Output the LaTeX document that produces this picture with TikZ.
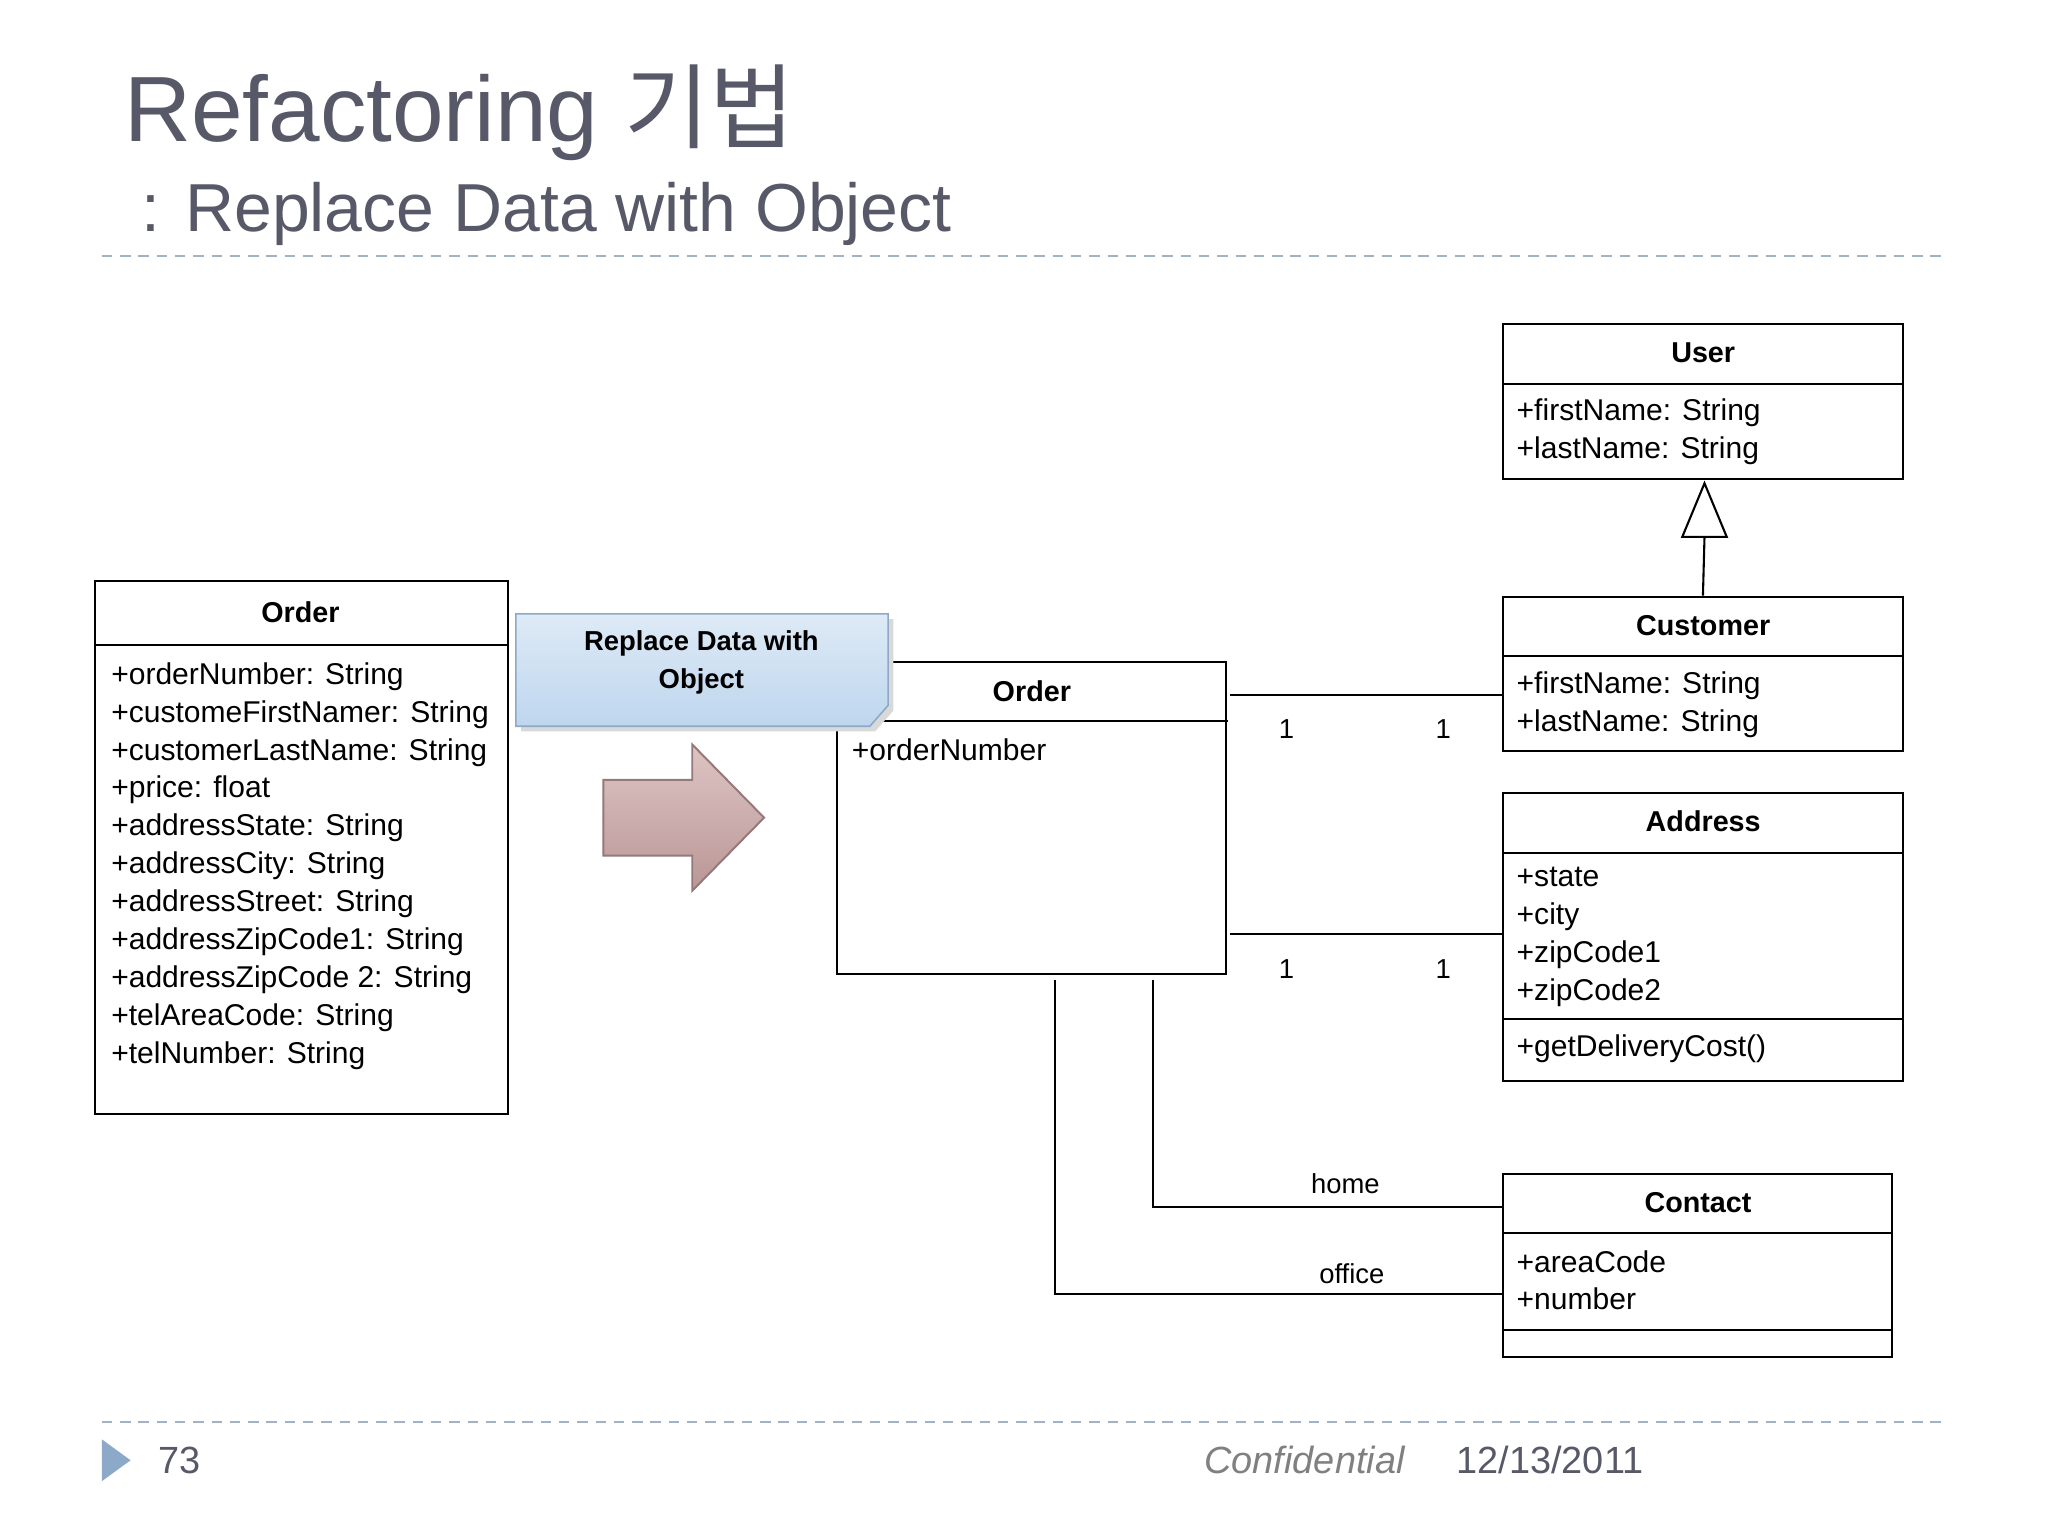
\documentclass[tikz,border=0pt]{standalone}
\usepackage{fontspec}
\setmainfont{Liberation Sans}
\newfontfamily\kor{Noto Sans CJK KR}
\usetikzlibrary{positioning}
\definecolor{titlegray}{RGB}{88,89,104}
\definecolor{rulecol}{RGB}{160,178,196}
\definecolor{markcol}{RGB}{140,170,200}
\definecolor{notetop}{RGB}{222,234,246}
\definecolor{notebot}{RGB}{190,214,238}
\definecolor{arrowtop}{RGB}{222,196,196}
\definecolor{arrowbot}{RGB}{186,150,150}
\tikzset{
  umlbox/.style={draw, line width=1.6pt, anchor=north west, inner sep=0pt},
  umltext/.style={anchor=north west, align=left, inner sep=0pt, font=\fontsize{23}{29}\selectfont},
  umlhead/.style={font=\bfseries\fontsize{22}{29}\selectfont, inner sep=0pt},
  link/.style={line width=1.6pt},
  mult/.style={font=\fontsize{21}{25}\selectfont, inner sep=0pt}
}
\begin{document}
\begin{tikzpicture}[x=1pt,y=-1pt]
  \fill[white] (0,0) rectangle (1568,1176);
  \useasboundingbox (0,0) rectangle (1568,1176);

  % title
  \node[anchor=base west, inner sep=0pt, text=titlegray, font=\fontsize{71}{80}\selectfont] (title) at (95,108) {Refactoring {\kor 기법}};
  \node[anchor=base west, inner sep=0pt, text=titlegray, font=\fontsize{52}{56}\selectfont] (subtitle) at (108,177) {: Replace Data with Object};
  \draw[rulecol, line width=1.5pt, dash pattern=on 8pt off 6pt] (78,196) -- (1490,196);

  % old Order
  \node[umlbox, minimum width=316pt, minimum height=408pt] (oldorder) at (72,444) {};
  \node[umlhead] (oldorderhead) at (230,469) {Order};
  \draw[line width=1.6pt] (72,494) -- (388,494);
  \node[umltext] (oldorderattr) at (85,507) {+orderNumber: String\\+customeFirstNamer: String\\+customerLastName: String\\+price: float\\+addressState: String\\+addressCity: String\\+addressStreet: String\\+addressZipCode1: String\\+addressZipCode 2: String\\+telAreaCode: String\\+telNumber: String};

  % new Order
  \node[umlbox, minimum width=298pt, minimum height=239pt] (order) at (640,506) {};
  \node[umlhead] (orderhead) at (790,529) {Order};
  \draw[line width=1.6pt] (640,552) -- (940,552);
  \node[umltext] (orderattr) at (652,565) {+orderNumber};

  % note and arrow
  \fill[black!15] (399,474) -- (684,474) -- (684,544) -- (670,560) -- (399,560) -- cycle;
  \draw[draw=markcol, top color=notetop, bottom color=notebot, line width=1.2pt]
    (395,470) -- (680,470) -- (680,540) -- (666,556) -- (395,556) -- cycle;
  \node[align=center, font=\bfseries\fontsize{21}{29}\selectfont, inner sep=0pt] (note) at (537,507) {Replace Data with\\Object};
  \draw[draw=arrowbot!80!black, top color=arrowtop, bottom color=arrowbot, line width=1.5pt]
    (462,597) -- (530,597) -- (530,570) -- (585,626) -- (530,682) -- (530,655) -- (462,655) -- cycle;

  % User
  \node[umlbox, minimum width=306pt, minimum height=119pt] (user) at (1150,247) {};
  \node[umlhead] (userhead) at (1304,270) {User};
  \draw[line width=1.6pt] (1150,294) -- (1456,294);
  \node[umltext] (userattr) at (1161,305) {+firstName: String\\+lastName: String};

  % Customer
  \node[umlbox, minimum width=306pt, minimum height=118pt] (customer) at (1150,456) {};
  \node[umlhead] (customerhead) at (1304,479) {Customer};
  \draw[line width=1.6pt] (1150,502) -- (1456,502);
  \node[umltext] (customerattr) at (1161,514) {+firstName: String\\+lastName: String};

  % Address
  \node[umlbox, minimum width=306pt, minimum height=221pt] (address) at (1150,606) {};
  \node[umlhead] (addresshead) at (1304,629) {Address};
  \draw[line width=1.6pt] (1150,653) -- (1456,653);
  \node[umltext] (addressattr) at (1161,664) {+state\\+city\\+zipCode1\\+zipCode2};
  \draw[line width=1.6pt] (1150,780) -- (1456,780);
  \node[umltext] (addressop) at (1161,792) {+getDeliveryCost()};

  % Contact
  \node[umlbox, minimum width=298pt, minimum height=140pt] (contact) at (1150,898) {};
  \node[umlhead] (contacthead) at (1300,921) {Contact};
  \draw[line width=1.6pt] (1150,944) -- (1448,944);
  \node[umltext] (contactattr) at (1161,957) {+areaCode\\+number};
  \draw[line width=1.6pt] (1150,1018) -- (1448,1018);

  % generalization
  \draw[link] (customer.north) -- (1305,411);
  \draw[link, fill=white] (1305,370) -- (1322,411) -- (1288,411) -- cycle;

  % associations
  \coordinate (cust1) at (1150,532);
  \coordinate (addr1) at (1150,715);
  \coordinate (home) at (1150,924);
  \coordinate (office) at (1150,991);
  \draw[link] (942,532) -- (cust1);
  \node[mult] at (985,558) {1};
  \node[mult] at (1105,558) {1};
  \draw[link] (942,715) -- (addr1);
  \node[mult] at (985,742) {1};
  \node[mult] at (1105,742) {1};
  \draw[link] (883,750) |- (home);
  \node[mult, anchor=base] at (1030,914) {home};
  \draw[link] (808,750) |- (office);
  \node[mult, anchor=base] at (1035,983) {office};

  % footer
  \draw[rulecol, line width=1.5pt, dash pattern=on 8pt off 6pt] (78,1089) -- (1490,1089);
  \fill[markcol] (78,1102) -- (100,1118) -- (78,1134) -- cycle;
  \node[anchor=base west, inner sep=0pt, text=titlegray, font=\fontsize{29}{32}\selectfont] (page) at (121,1128) {73};
  \node[anchor=base west, inner sep=0pt, text=gray, font=\itshape\fontsize{29}{32}\selectfont] (conf) at (922,1128) {Confidential};
  \node[anchor=base west, inner sep=0pt, text=titlegray, font=\fontsize{29}{32}\selectfont] (date) at (1115,1128) {12/13/2011};
\end{tikzpicture}
\end{document}
